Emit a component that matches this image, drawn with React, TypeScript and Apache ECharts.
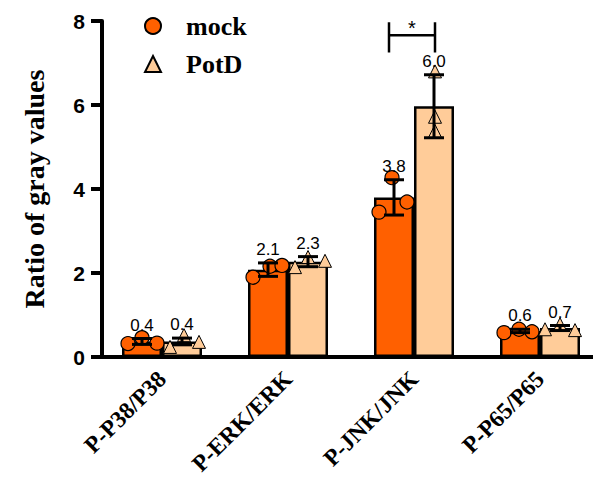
import React, { useEffect, useRef } from 'react';
import * as echarts from 'echarts';

const categories = ['P-P38/P38', 'P-ERK/ERK', 'P-JNK/JNK', 'P-P65/P65'];
const yTicks = [0, 2, 4, 6, 8];
const mockMean = [0.37, 2.08, 3.8, 0.62];
const potdMean = [0.37, 2.27, 5.97, 0.69];
const mockSD = [0.07, 0.16, 0.42, 0.04];
const potdSD = [0.08, 0.12, 0.75, 0.06];
const mockPoints = [
  [0.32, 0.46, 0.33],
  [1.9, 2.16, 2.18],
  [3.45, 4.27, 3.69],
  [0.58, 0.66, 0.6],
];
const potdPoints = [
  [0.24, 0.52, 0.36],
  [2.14, 2.38, 2.29],
  [6.8, 5.72, 5.38],
  [0.66, 0.78, 0.64],
];
const sigBrackets = [{ category: 2, y: 7.66, top: 7.97, bottom: 7.25, text: '*' }];

// layout (pixels)
const BAND = 126;
const BAR_W = 40;
const mockJitter = [[-14, 0, 15], [-15, 2, 14], [-15, -2, 13], [-16, -1, 12]];
const potdJitter = [[-12, 2, 17], [-13, 0, 17], [1, 1, 1], [-15, 0, 15]];

const MOCK = '#FF6000';
const POTD = '#FFCC99';
const SERIF = '"Liberation Serif", "Times New Roman", serif';
const SANS = '"Liberation Sans", Arial, sans-serif';

function pointsData(points: number[][], jitter: number[][], off: number) {
  const out: number[][] = [];
  points.forEach((arr, i) => {
    arr.forEach((v, k) => {
      out.push([i + 0.5 + (off + jitter[i][k]) / BAND, v]);
    });
  });
  return out;
}

export default function App() {
  const ref = useRef<HTMLDivElement>(null);
  useEffect(() => {
    if (!ref.current) return;
    const chart = echarts.init(ref.current, null, { renderer: 'svg' });
    const errData: number[][] = [];
    categories.forEach((_, i) => {
      errData.push([i, mockMean[i], mockSD[i], -BAR_W / 2]);
      errData.push([i, potdMean[i], potdSD[i], BAR_W / 2]);
    });
    chart.setOption({
      animation: false,
      backgroundColor: '#fff',
      grid: {
        left: 99,
        width: BAND * categories.length,
        top: 21,
        height: 336,
        containLabel: false,
        outerBoundsMode: 'none',
      },
      legend: {
        orient: 'vertical',
        left: 139,
        top: 8,
        itemWidth: 16,
        itemHeight: 16,
        itemGap: 12,
        data: [
          { name: 'mock', icon: 'circle' },
          { name: 'PotD', icon: 'triangle' },
        ],
        textStyle: {
          fontFamily: SERIF,
          fontWeight: 'bold',
          fontSize: 26,
          color: '#000',
          padding: [0, 0, 0, 20],
        },
      },
      xAxis: [
        {
          type: 'category',
          data: categories,
          axisLine: { lineStyle: { color: '#000', width: 4 } },
          axisTick: { alignWithLabel: true, length: 9, lineStyle: { color: '#000', width: 4 } },
          axisLabel: {
            rotate: 45,
            margin: 18,
            hideOverlap: false,
            fontFamily: SERIF,
            fontWeight: 'bold',
            fontSize: 23.5,
            color: '#000',
          },
        },
        { type: 'value', min: 0, max: categories.length, show: false },
      ],
      yAxis: {
        type: 'value',
        min: 0,
        max: 8,
        interval: 2,
        offset: -3,
        name: 'Ratio of gray values',
        nameLocation: 'middle',
        nameGap: 54,
        nameTextStyle: { fontFamily: SERIF, fontWeight: 'bold', fontSize: 28, color: '#000' },
        axisLine: { show: true, lineStyle: { color: '#000', width: 4 } },
        axisTick: { show: true, length: 11, lineStyle: { color: '#000', width: 4 } },
        axisLabel: {
          margin: 17,
          fontFamily: SANS,
          fontWeight: 'bold',
          fontSize: 21,
          color: '#000',
          formatter: (v: number) => (yTicks.includes(v) ? String(v) : ''),
        },
        splitLine: { show: false },
      },
      series: [
        {
          name: 'mock bar',
          type: 'bar',
          data: mockMean,
          barWidth: BAR_W,
          barGap: '0%',
          z: 2,
          itemStyle: { color: MOCK, borderColor: '#000', borderWidth: 2.5 },
        },
        {
          name: 'PotD bar',
          type: 'bar',
          data: potdMean,
          barWidth: BAR_W,
          barGap: '0%',
          z: 2,
          itemStyle: { color: POTD, borderColor: '#000', borderWidth: 2.5 },
        },
        {
          name: 'mock',
          type: 'scatter',
          xAxisIndex: 1,
          symbol: 'circle',
          symbolSize: 14,
          z: 3,
          itemStyle: { color: MOCK, borderColor: '#000', borderWidth: 1.2, opacity: 1 },
          data: pointsData(mockPoints, mockJitter, -BAR_W / 2),
        },
        {
          name: 'PotD',
          type: 'scatter',
          xAxisIndex: 1,
          symbol: 'triangle',
          symbolSize: 13,
          z: 3,
          itemStyle: { color: POTD, borderColor: '#000', borderWidth: 1, opacity: 1 },
          data: pointsData(potdPoints, potdJitter, BAR_W / 2),
        },
        {
          name: 'errors',
          type: 'custom',
          z: 4,
          data: errData,
          renderItem: (params: any, api: any) => {
            const i = api.value(0);
            const mean = api.value(1);
            const sd = api.value(2);
            const off = api.value(3);
            const top = api.coord([i, mean + sd]);
            const bot = api.coord([i, mean - sd]);
            const x = top[0] + off;
            const st = { stroke: '#000', lineWidth: 3 };
            return {
              type: 'group',
              children: [
                { type: 'line', shape: { x1: x, y1: top[1], x2: x, y2: bot[1] }, style: st },
                { type: 'line', shape: { x1: x - 10, y1: top[1], x2: x + 10, y2: top[1] }, style: st },
                { type: 'line', shape: { x1: x - 10, y1: bot[1], x2: x + 10, y2: bot[1] }, style: st },
                {
                  type: 'text',
                  x,
                  y: top[1] - 5,
                  style: {
                    text: mean.toFixed(1),
                    align: 'center',
                    verticalAlign: 'bottom',
                    font: `17px ${SANS}`,
                    fill: '#000',
                  },
                },
              ],
            };
          },
        },
        {
          name: 'sig',
          type: 'custom',
          z: 4,
          data: sigBrackets.map((b) => [b.category, b.y, b.top, b.bottom]),
          renderItem: (params: any, api: any) => {
            const i = api.value(0);
            const mid = api.coord([i, api.value(1)]);
            const t = api.coord([i, api.value(2)]);
            const b = api.coord([i, api.value(3)]);
            const x1 = mid[0] - BAR_W / 2 - 5;
            const x2 = mid[0] + BAR_W / 2 + 1;
            const st = { stroke: '#000', lineWidth: 2.5 };
            return {
              type: 'group',
              children: [
                { type: 'line', shape: { x1, y1: mid[1], x2, y2: mid[1] }, style: st },
                { type: 'line', shape: { x1, y1: t[1], x2: x1, y2: b[1] }, style: st },
                { type: 'line', shape: { x1: x2, y1: t[1], x2, y2: b[1] }, style: st },
                {
                  type: 'text',
                  x: (x1 + x2) / 2,
                  y: t[1] - 4,
                  style: {
                    text: sigBrackets[params.dataIndex].text,
                    align: 'center',
                    verticalAlign: 'top',
                    font: `20px ${SANS}`,
                    fill: '#000',
                  },
                },
              ],
            };
          },
        },
      ],
    });
    return () => chart.dispose();
  }, []);
  return (
    <div
      ref={ref}
      style={{ position: 'fixed', left: 0, top: 0, width: 593, height: 477, background: '#fff' }}
    />
  );
}
